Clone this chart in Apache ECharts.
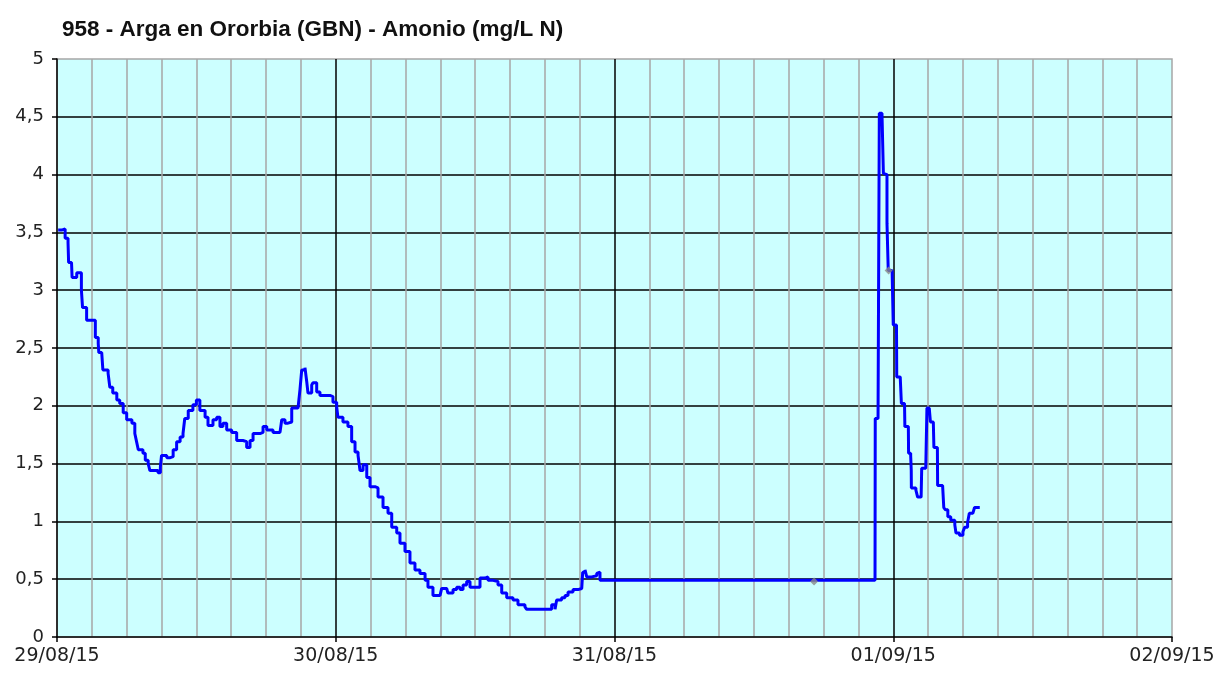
<!DOCTYPE html>
<html>
<head>
<meta charset="utf-8">
<script src="https://cdn.jsdelivr.net/npm/echarts@6/dist/echarts.min.js"></script>
<style>
  html, body { margin: 0; padding: 0; background: #fff; }
  #chart { width: 1219px; height: 673px; }
</style>
</head>
<body>
<div id="chart"></div>
<script>
// hours since 29/08/15 00:00
const hours = [
  0.1, 0.4, 0.7, 0.95, 1.0, 1.25, 1.3, 1.7, 2.1, 2.2, 2.55, 3.3, 3.3, 3.55, 3.6, 3.85, 3.95, 4.4, 4.55, 4.8,
  5.15, 5.4, 5.7, 6.0, 6.45, 6.7, 6.85, 7.0, 7.4, 7.6, 7.85, 8.0, 8.7, 8.9, 9.0, 9.45, 9.7, 10.0, 10.3, 10.6,
  10.85, 11.0, 11.3, 11.7, 12.0, 12.3, 12.75, 13.0, 13.43, 13.75, 14.03, 14.29, 14.61, 15.04, 15.47, 16.01, 16.33, 16.62, 16.88, 17.48,
  17.74, 18.06, 18.6, 19.2, 19.35, 19.63, 19.89, 20.21, 20.75, 20.92, 21.07, 21.35, 21.5, 21.61, 21.93, 22.04, 22.36, 22.64, 23.5, 23.76,
  24.08, 24.19, 24.62, 25.05, 25.37, 25.66, 25.92, 26.09, 26.35, 26.67, 26.95, 27.38, 27.64, 28.07, 28.5, 28.82, 29.25, 29.53, 29.96, 30.39,
  30.82, 31.25, 31.69, 31.94, 32.37, 32.98, 33.12, 33.55, 33.66, 34.1, 34.41, 34.7, 34.96, 35.27, 35.56, 36.14, 36.42, 36.85, 37.11, 37.54,
  37.97, 38.29, 38.72, 39.26, 39.69, 40.29, 40.44, 42.16, 42.59, 42.88, 43.02, 43.45, 43.74, 44.0, 44.43, 44.86, 45.18, 45.26, 45.46, 45.61,
  46.04, 46.47, 46.58, 46.75, 70.43, 70.45, 70.69, 70.8, 71.03, 71.15, 71.32, 71.46, 71.57, 71.9, 72.0, 72.28, 72.3, 72.6, 72.7, 72.97,
  73.0, 73.3, 73.32, 73.5, 73.55, 73.56, 73.95, 74.1, 74.4, 74.45, 74.8, 74.9, 75.1, 75.2, 75.45, 75.5, 75.8, 75.82, 76.25, 76.35,
  76.5, 76.7, 76.95, 77.3, 77.4, 77.7, 78.0, 78.15, 78.4, 78.55, 78.85, 79.0, 79.45
];
const amonio = [
  3.52, 3.53, 3.45, 3.41, 3.24, 3.24, 3.11, 3.15, 3.0, 2.85, 2.74, 2.74, 2.59, 2.54, 2.46, 2.46, 2.31, 2.28, 2.16, 2.11,
  2.05, 2.02, 1.94, 1.88, 1.85, 1.76, 1.69, 1.62, 1.59, 1.53, 1.50, 1.44, 1.42, 1.47, 1.57, 1.55, 1.56, 1.62, 1.69, 1.73,
  1.76, 1.89, 1.96, 2.01, 2.05, 1.96, 1.90, 1.83, 1.88, 1.90, 1.82, 1.85, 1.79, 1.77, 1.70, 1.69, 1.64, 1.70, 1.76, 1.77,
  1.82, 1.79, 1.77, 1.77, 1.88, 1.85, 1.86, 1.98, 1.99, 2.14, 2.31, 2.33, 2.21, 2.11, 2.18, 2.20, 2.12, 2.09, 2.08, 2.03,
  1.99, 1.90, 1.86, 1.82, 1.69, 1.60, 1.57, 1.44, 1.49, 1.38, 1.30, 1.29, 1.21, 1.12, 1.07, 0.95, 0.90, 0.81, 0.74, 0.64,
  0.58, 0.55, 0.49, 0.43, 0.36, 0.36, 0.42, 0.41, 0.38, 0.41, 0.43, 0.41, 0.45, 0.48, 0.43, 0.43, 0.51, 0.52, 0.49, 0.48,
  0.45, 0.38, 0.34, 0.32, 0.28, 0.26, 0.24, 0.24, 0.28, 0.24, 0.32, 0.34, 0.36, 0.39, 0.41, 0.42, 0.43, 0.56, 0.58, 0.52,
  0.53, 0.55, 0.56, 0.49, 0.49, 1.89, 1.90, 4.53, 4.54, 4.01, 4.00, 3.58, 3.17, 3.16, 2.70, 2.68, 2.25, 2.24, 2.02, 2.01,
  1.82, 1.81, 1.59, 1.57, 1.44, 1.29, 1.27, 1.21, 1.21, 1.46, 1.47, 1.98, 1.99, 1.86, 1.85, 1.64, 1.63, 1.31, 1.30, 1.12,
  1.10, 1.04, 1.01, 0.97, 0.90, 0.88, 0.91, 0.95, 0.99, 1.07, 1.08, 1.12, 1.12
];
// isolated grey points
const greyHours = [65.18, 71.6];
const greyValues = [0.48, 3.17];

const dayLabels = ['29/08/15', '30/08/15', '31/08/15', '01/09/15', '02/09/15'];
const title = '958 - Arga en Ororbia (GBN) - Amonio (mg/L N)';

const lineData = hours.map((h, i) => [h, amonio[i]]);
const greyData = greyHours.map((h, i) => [h, greyValues[i]]);

const chart = echarts.init(document.getElementById('chart'));
const labelFont = { color: '#222', fontFamily: 'DejaVu Sans', fontSize: 18 };

chart.setOption({
  animation: false,
  title: {
    text: title, left: 57, top: 13,
    textStyle: { fontFamily: 'Liberation Sans Narrow, Liberation Sans', fontWeight: 'bold', fontSize: 22.5, color: '#111' },
  },
  grid: {
    left: 57, right: 47, top: 59, bottom: 36,
    show: true, backgroundColor: '#ccffff', borderColor: '#a6a6a6', borderWidth: 1.5,
  },
  xAxis: {
    type: 'value', min: 0, max: 96, interval: 24,
    axisLine: { show: true, lineStyle: { color: '#000', width: 1.5 } },
    axisTick: { show: true, length: 5, lineStyle: { color: '#000', width: 1.5 } },
    axisLabel: { ...labelFont, fontSize: 19, margin: 10, formatter: v => dayLabels[Math.round(v / 24)] },
    splitLine: { show: true, showMinLine: false, showMaxLine: false, lineStyle: { color: '#000', width: 1.5 } },
    minorTick: { show: false, splitNumber: 8 },
    minorSplitLine: { show: true, lineStyle: { color: '#a6a6a6', width: 1.5 } },
  },
  yAxis: {
    type: 'value', min: 0, max: 5, interval: 0.5,
    axisLine: { show: true, lineStyle: { color: '#000', width: 1.5 } },
    axisTick: { show: true, length: 5, lineStyle: { color: '#000', width: 1.5 } },
    axisLabel: { ...labelFont, margin: 13, formatter: v => String(v).replace('.', ',') },
    splitLine: { show: true, showMinLine: false, showMaxLine: false, lineStyle: { color: '#000', width: 1.5 } },
  },
  series: [
    {
      type: 'line', data: lineData, showSymbol: false, symbol: 'none', step: 'end',
      lineStyle: { color: '#0000ff', width: 3 },
      z: 3,
    },
    {
      type: 'scatter', data: greyData, symbol: 'diamond', symbolSize: 8,
      itemStyle: { color: '#888888' },
      z: 4,
    },
  ],
});
</script>
</body>
</html>
